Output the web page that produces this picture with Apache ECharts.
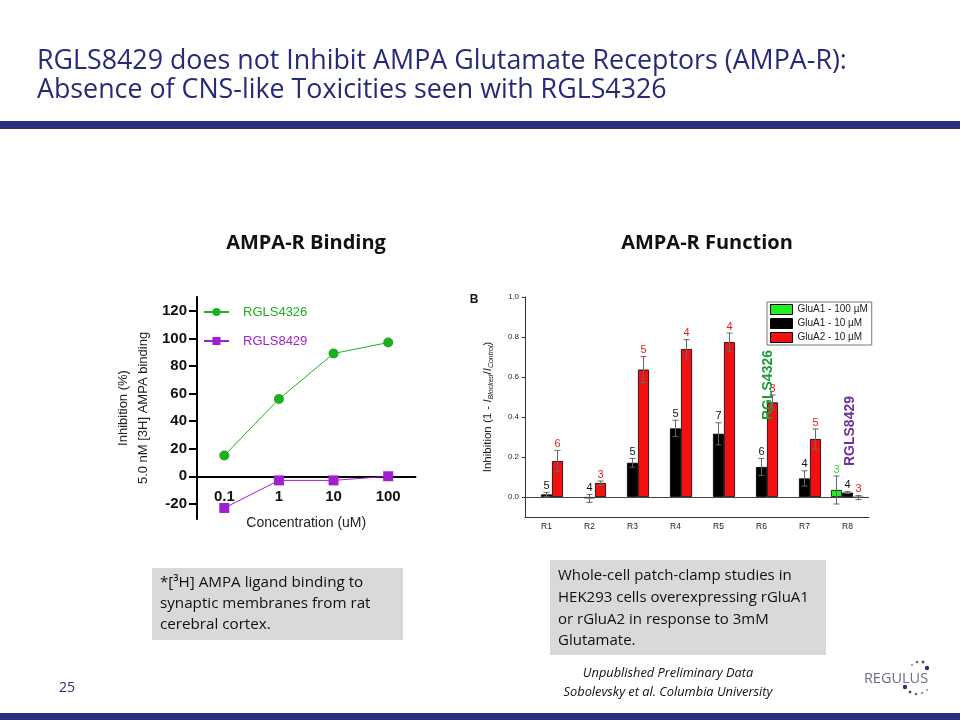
<!DOCTYPE html>
<html><head><meta charset="utf-8">
<script src="https://cdn.jsdelivr.net/npm/echarts@6/dist/echarts.min.js"></script>
<style>html,body{margin:0;padding:0;background:#fff}#c{width:960px;height:720px}</style>
</head><body><div id="c"></div>
<script>
// ---- Left chart: AMPA-R Binding ----
const concentrations = ['0.1', '1', '10', '100'];
const rgls4326 = [15, 56, 89, 97];
const rgls8429 = [-23, -3, -3, 0];
const bindingTicks = [-20, 0, 20, 40, 60, 80, 100, 120];

// ---- Right chart: AMPA-R Function ----
const receptors = ['R1', 'R2', 'R3', 'R4', 'R5', 'R6', 'R7', 'R8'];
const glua1_100 = [null, null, null, null, null, null, null, 0.035];
const glua1_10 = [0.013, -0.007, 0.171, 0.343, 0.316, 0.150, 0.093, 0.022];
const glua2_10 = [0.180, 0.070, 0.637, 0.740, 0.774, 0.473, 0.290, -0.003];
const glua1_100Err = [null, null, null, null, null, null, null, 0.070];
const glua1_10Err = [0.010, 0.020, 0.022, 0.041, 0.055, 0.043, 0.038, 0.005];
const glua2_10Err = [0.053, 0.010, 0.065, 0.047, 0.046, 0.037, 0.050, 0.010];
const glua1_100N = [null, null, null, null, null, null, null, 3];
const glua1_10N = [5, 4, 5, 5, 7, 6, 4, 4];
const glua2_10N = [6, 3, 5, 4, 4, 3, 5, 3];
const functionTicks = [0, 0.2, 0.4, 0.6, 0.8, 1.0];

const GREEN = '#1fae1f', PURPLE = '#a020d0', NAVY = '#27307a';
const AR = '"Liberation Sans", Arial, sans-serif';
const OS = '"Open Sans", sans-serif';

function errorSeries(values, errs, ns, offset, textColor) {
  const data = [];
  values.forEach((v, i) => { if (v != null) data.push([i, v, errs[i], ns[i]]); });
  return {
    type: 'custom', xAxisIndex: 1, yAxisIndex: 1, silent: true, z: 5,
    encode: { x: 0, y: 1 },
    data: data,
    renderItem(params, api) {
      const i = api.value(0), v = api.value(1), e = api.value(2), n = api.value(3);
      const top = api.coord([i, v + e]);
      const bot = api.coord([i, v - e]);
      const x = top[0] + offset;
      const cap = 3;
      const ls = { stroke: '#666', lineWidth: 1 };
      return {
        type: 'group', children: [
          { type: 'line', shape: { x1: x, y1: top[1], x2: x, y2: bot[1] }, style: ls },
          { type: 'line', shape: { x1: x - cap, y1: top[1], x2: x + cap, y2: top[1] }, style: ls },
          { type: 'line', shape: { x1: x - cap, y1: bot[1], x2: x + cap, y2: bot[1] }, style: ls },
          { type: 'text', x: x, y: top[1] - 1, style: { text: String(n), fill: textColor, font: '11px ' + AR, align: 'center', verticalAlign: 'bottom' } }
        ]
      };
    }
  };
}

const chart = echarts.init(document.getElementById('c'));
chart.setOption({
  animation: false,
  backgroundColor: '#fff',
  grid: [
    { left: 197, top: 297, width: 218.5, height: 222 },
    { left: 525, top: 297, width: 344, height: 220 }
  ],
  xAxis: [
    {
      gridIndex: 0, type: 'category', data: concentrations, boundaryGap: true,
      position: 'bottom', offset: -42.7,
      axisLine: { onZero: false, lineStyle: { color: '#000', width: 2 } },
      axisTick: { alignWithLabel: true, length: 8, lineStyle: { color: '#000', width: 2 } },
      axisLabel: { fontSize: 15, fontWeight: 'bold', color: '#111', margin: 13, fontFamily: AR },
      name: 'Concentration (uM)', nameLocation: 'middle', nameGap: 40,
      nameTextStyle: { fontSize: 14, color: '#222', fontFamily: AR }
    },
    {
      gridIndex: 1, type: 'category', data: receptors, boundaryGap: true,
      axisLine: { onZero: false, lineStyle: { color: '#333', width: 1 } },
      axisTick: { alignWithLabel: true, length: 3, lineStyle: { color: '#333' } },
      axisLabel: { fontSize: 8.5, color: '#222', margin: 5, fontFamily: AR }
    }
  ],
  yAxis: [
    {
      gridIndex: 0, type: 'value', min: -31, max: 130,
      axisLine: { show: true, lineStyle: { color: '#000', width: 2 } },
      axisTick: { show: true, length: 8, lineStyle: { color: '#000', width: 2 }, customValues: bindingTicks },
      axisLabel: { customValues: bindingTicks, fontSize: 15, fontWeight: 'bold', color: '#111', margin: 10, fontFamily: AR },
      splitLine: { show: false },
      name: 'Inhibition (%)\n5.0 nM [3H] AMPA binding', nameLocation: 'middle', nameGap: 44,
      nameTextStyle: { fontSize: 13, color: '#222', lineHeight: 20, fontFamily: AR }
    },
    {
      gridIndex: 1, type: 'value', min: -0.1, max: 1.0,
      axisLine: { show: true, lineStyle: { color: '#333', width: 1 } },
      axisTick: { show: true, length: 3, lineStyle: { color: '#333' }, customValues: functionTicks },
      axisLabel: { customValues: functionTicks, formatter: v => v.toFixed(1), fontSize: 8, color: '#222', margin: 6, fontFamily: AR },
      splitLine: { show: false },
      name: '{a|Inhibition (1 - }{i|I}{s|Blocked}{a|/}{i|I}{s|Control}{a|)}',
      nameLocation: 'middle', nameGap: 30,
      nameTextStyle: {
        fontFamily: AR, color: '#222',
        rich: {
          a: { fontSize: 11.5, lineHeight: 15, fontFamily: AR, color: '#222' },
          i: { fontSize: 11.5, lineHeight: 15, fontStyle: 'italic', fontFamily: AR, color: '#222' },
          s: { fontSize: 7, lineHeight: 8, fontStyle: 'italic', verticalAlign: 'bottom', fontFamily: AR, color: '#222' }
        }
      }
    }
  ],
  legend: [
    {
      data: [
        { name: 'RGLS4326', textStyle: { color: GREEN } },
        { name: 'RGLS8429', textStyle: { color: PURPLE } }
      ],
      orient: 'vertical', left: 198, top: 300, itemWidth: 25, itemHeight: 10, itemGap: 15,
      selectedMode: false,
      textStyle: { fontSize: 13, lineHeight: 14, fontFamily: AR, padding: [0, 0, 0, 9] }
    },
    {
      data: ['GluA1 - 100 µM', 'GluA1 - 10 µM', 'GluA2 - 10 µM'],
      orient: 'vertical', left: 767, top: 302, itemWidth: 22, itemHeight: 10, itemGap: 3,
      icon: 'rect', selectedMode: false,
      padding: [2, 4, 2, 3], borderColor: '#777', borderWidth: 1, backgroundColor: '#fff',
      itemStyle: { borderColor: '#000', borderWidth: 1 },
      textStyle: { fontSize: 10, color: '#222', fontFamily: AR, lineHeight: 11 }
    }
  ],
  series: [
    {
      name: 'RGLS4326', type: 'line', xAxisIndex: 0, yAxisIndex: 0, data: rgls4326,
      symbol: 'circle', symbolSize: 10, color: GREEN,
      lineStyle: { width: 1, color: GREEN }, itemStyle: { color: GREEN }
    },
    {
      name: 'RGLS8429', type: 'line', xAxisIndex: 0, yAxisIndex: 0, data: rgls8429,
      symbol: 'rect', symbolSize: 10, color: PURPLE,
      lineStyle: { width: 1, color: PURPLE }, itemStyle: { color: PURPLE }
    },
    {
      name: 'GluA1 - 100 µM', type: 'bar', xAxisIndex: 1, yAxisIndex: 1, data: glua1_100,
      barWidth: 11, barGap: '0%', itemStyle: { color: '#22ee22', borderColor: '#000', borderWidth: 0.8 }
    },
    {
      name: 'GluA1 - 10 µM', type: 'bar', xAxisIndex: 1, yAxisIndex: 1, data: glua1_10,
      barWidth: 11, barGap: '0%', itemStyle: { color: '#000', borderColor: '#000', borderWidth: 0.8 },
      markLine: {
        silent: true, symbol: 'none', label: { show: false },
        lineStyle: { color: '#444', width: 1, type: 'solid' },
        data: [{ yAxis: 0 }]
      }
    },
    {
      name: 'GluA2 - 10 µM', type: 'bar', xAxisIndex: 1, yAxisIndex: 1, data: glua2_10,
      barWidth: 11, barGap: '0%', itemStyle: { color: '#f21010', borderColor: '#000', borderWidth: 0.8 }
    },
    errorSeries(glua1_100, glua1_100Err, glua1_100N, -11, '#33dd33'),
    errorSeries(glua1_10, glua1_10Err, glua1_10N, 0, '#111'),
    errorSeries(glua2_10, glua2_10Err, glua2_10N, 11, '#e82020')
  ],
  graphic: [
    { type: 'text', x: 37, y: 61, style: { text: 'RGLS8429 does not Inhibit AMPA Glutamate Receptors (AMPA-R):', fill: '#262b78', font: '26.8px ' + OS, verticalAlign: 'middle' } },
    { type: 'text', x: 37, y: 90, style: { text: 'Absence of CNS-like Toxicities seen with RGLS4326', fill: '#262b78', font: '26.8px ' + OS, verticalAlign: 'middle' } },
    { type: 'rect', shape: { x: 0, y: 121, width: 960, height: 8 }, style: { fill: NAVY } },
    { type: 'rect', shape: { x: 0, y: 713, width: 960, height: 7 }, style: { fill: NAVY } },
    { type: 'text', x: 306, y: 243, style: { text: 'AMPA-R Binding', fill: '#111', font: 'bold 20px ' + OS, align: 'center', verticalAlign: 'middle' } },
    { type: 'text', x: 707, y: 243, style: { text: 'AMPA-R Function', fill: '#111', font: 'bold 20px ' + OS, align: 'center', verticalAlign: 'middle' } },
    { type: 'text', x: 474, y: 300, style: { text: 'B', fill: '#111', font: 'bold 12px ' + AR, align: 'center', verticalAlign: 'middle' } },
    { type: 'text', x: 768, y: 385, rotation: Math.PI / 2, z: 10, style: { text: 'RGLS4326', fill: '#1a9e3a', font: 'bold 14px ' + AR, align: 'center', verticalAlign: 'middle' } },
    { type: 'text', x: 850, y: 431, rotation: Math.PI / 2, z: 10, style: { text: 'RGLS8429', fill: '#7030a0', font: 'bold 14px ' + AR, align: 'center', verticalAlign: 'middle' } },
    { type: 'rect', shape: { x: 152, y: 568, width: 251, height: 72 }, style: { fill: '#d9d9d9' } },
    { type: 'text', x: 160, y: 572, style: { text: '*[³H] AMPA ligand binding to\nsynaptic membranes from rat\ncerebral cortex.', fill: '#111', font: '15.2px ' + OS, lineHeight: 21 } },
    { type: 'rect', shape: { x: 550, y: 560, width: 276, height: 95 }, style: { fill: '#d9d9d9' } },
    { type: 'text', x: 558, y: 565, style: { text: 'Whole-cell patch-clamp studies in\nHEK293 cells overexpressing rGluA1\nor rGluA2 in response to 3mM\nGlutamate.', fill: '#111', font: '15px ' + OS, lineHeight: 21.7 } },
    { type: 'text', x: 668, y: 673, style: { text: 'Unpublished Preliminary Data', fill: '#111', font: 'italic 12.8px ' + OS, align: 'center', verticalAlign: 'middle' } },
    { type: 'text', x: 668, y: 692, style: { text: 'Sobolevsky et al. Columbia University', fill: '#111', font: 'italic 12.8px ' + OS, align: 'center', verticalAlign: 'middle' } },
    { type: 'text', x: 67, y: 688, style: { text: '25', fill: '#2b2f7b', font: '14px ' + OS, align: 'center', verticalAlign: 'middle' } },
    { type: 'text', x: 896, y: 679, style: { text: 'REGULUS', fill: '#6e6a8e', font: '14.5px ' + OS, align: 'center', verticalAlign: 'middle' } },
    { type: 'circle', shape: { cx: 912, cy: 665, r: 0.9 }, style: { fill: '#8a6a8a' } },
    { type: 'circle', shape: { cx: 917, cy: 662, r: 1.2 }, style: { fill: '#7a5a7a' } },
    { type: 'circle', shape: { cx: 923, cy: 662, r: 1.5 }, style: { fill: '#6a4a6a' } },
    { type: 'circle', shape: { cx: 927, cy: 668, r: 2.2 }, style: { fill: '#2b2f7b' } },
    { type: 'circle', shape: { cx: 905, cy: 687, r: 2.2 }, style: { fill: '#2b2f7b' } },
    { type: 'circle', shape: { cx: 910, cy: 692, r: 1.5 }, style: { fill: '#6a4a6a' } },
    { type: 'circle', shape: { cx: 916, cy: 694, r: 1.3 }, style: { fill: '#7a5a7a' } },
    { type: 'circle', shape: { cx: 922, cy: 693, r: 1.1 }, style: { fill: '#8a6a8a' } },
    { type: 'circle', shape: { cx: 927, cy: 690, r: 0.9 }, style: { fill: '#9a7a9a' } }
  ]
});
</script></body></html>
